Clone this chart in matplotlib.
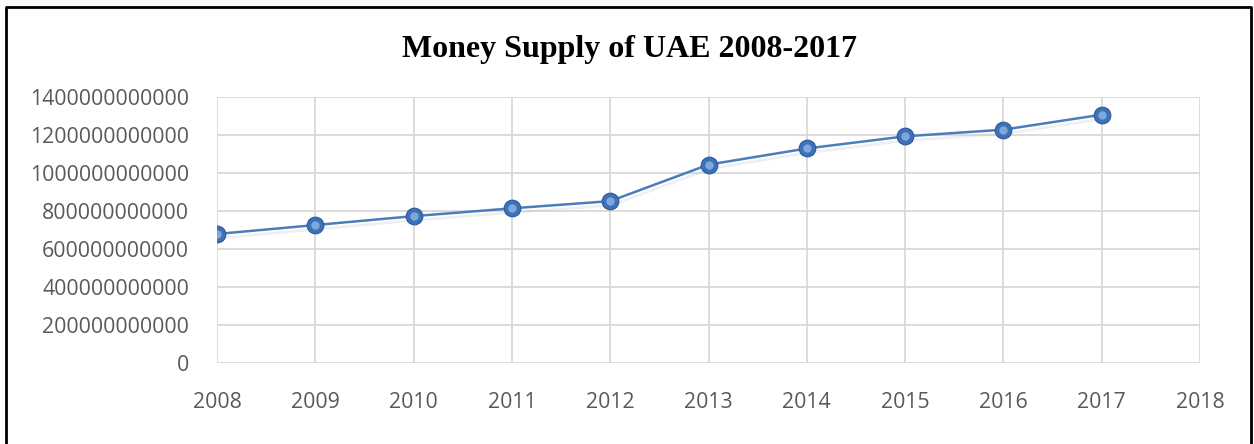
import matplotlib
matplotlib.use("Agg")
import matplotlib.pyplot as plt
import matplotlib.patheffects as pe
from matplotlib.lines import Line2D
from matplotlib.ticker import FuncFormatter

years = [2008, 2009, 2010, 2011, 2012, 2013, 2014, 2015, 2016, 2017]
money_supply = [679e9, 726e9, 773e9, 814e9, 852e9, 1044e9, 1129e9, 1193e9, 1228e9, 1307e9]
x_ticks = list(range(2008, 2019))
y_ticks = [0, 200e9, 400e9, 600e9, 800e9, 1000e9, 1200e9, 1400e9]

plt.rcParams['font.family'] = ['Open Sans', 'DejaVu Sans']

fig = plt.figure(figsize=(12.54, 4.44), dpi=100)
ax = fig.add_axes([217 / 1254, 1 - 363 / 444, (1200 - 217) / 1254, (363 - 97) / 444])

ax.plot(years, money_supply, color='#4a7ebb', linewidth=1.8, zorder=3,
        path_effects=[pe.SimpleLineShadow(offset=(1, -3), shadow_color='#c0c0c0', alpha=0.25),
                      pe.Normal()])
ax.plot(years, money_supply, linestyle='none', marker='o', markersize=12,
        markerfacecolor='#3d72b8', markeredgecolor='#2a5a99', markeredgewidth=0.8, zorder=4)
ax.plot(years, money_supply, linestyle='none', marker='o', markersize=6,
        markerfacecolor='#8fb6e6', markeredgewidth=0, alpha=0.8, zorder=5)

ax.set_xlim(2008, 2018)
ax.set_ylim(0, 1400e9)
ax.set_xticks(x_ticks)
ax.set_yticks(y_ticks)
ax.yaxis.set_major_formatter(FuncFormatter(lambda v, p: '%d' % round(v)))
ax.grid(True, color='#d9d9d9', linewidth=1.3)
ax.set_axisbelow(True)
for s in ax.spines.values():
    s.set_visible(False)
ax.tick_params(axis='both', length=0, labelsize=15.3, labelcolor='#595959')
ax.tick_params(axis='y', pad=20)
ax.tick_params(axis='x', pad=21)

fig.text(0.502, 1 - 49 / 444, 'Money Supply of UAE 2008-2017', ha='center', va='center',
         fontsize=23, fontweight='bold', family=['Liberation Serif', 'DejaVu Serif'])

# frame round the chart (left, top, right)
bx0, bx1 = 6 / 1254, 1251 / 1254
by = 1 - 7 / 444
fig.add_artist(Line2D([bx0, bx0, bx1, bx1], [0, by, by, 0], color='black', linewidth=2,
                      transform=fig.transFigure))

fig.savefig('out.png', dpi=100)
